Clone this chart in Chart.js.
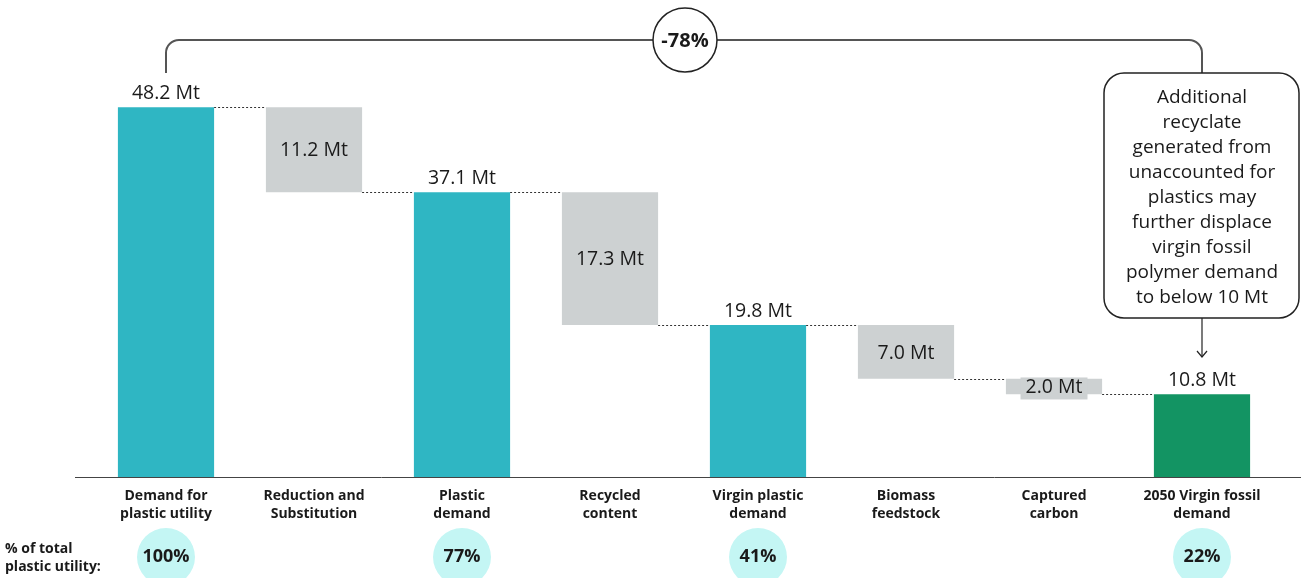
<!DOCTYPE html>
<html>
<head>
<meta charset="utf-8">
<script src="https://cdn.jsdelivr.net/npm/chart.js@4/dist/chart.umd.min.js"></script>
<style>
html,body{margin:0;padding:0;background:#fff;}
#wrap{width:1301px;height:578px;position:relative;}
</style>
</head>
<body>
<div id="wrap"><canvas id="c" width="1301" height="578"></canvas></div>
<script>
const categories = [
  ["Demand for","plastic utility"],
  ["Reduction and","Substitution"],
  ["Plastic","demand"],
  ["Recycled","content"],
  ["Virgin plastic","demand"],
  ["Biomass","feedstock"],
  ["Captured","carbon"],
  ["2050 Virgin fossil","demand"]
];
const barBottoms = [0, 37.1, 0, 19.8, 0, 12.8, 10.8, 0];
const barTops    = [48.2, 48.2, 37.1, 37.1, 19.8, 19.8, 12.8, 10.8];
const barKinds   = ["total","step","total","step","total","step","step","final"];
const valueLabels = ["48.2 Mt","11.2 Mt","37.1 Mt","17.3 Mt","19.8 Mt","7.0 Mt","2.0 Mt","10.8 Mt"];
const shareLabels = ["100%", null, "77%", null, "41%", null, null, "22%"];
const changeLabel = "-78%";
const noteLines = ["Additional","recyclate","generated from","unaccounted for","plastics may","further displace","virgin fossil","polymer demand","to below 10 Mt"];

const kindColors = {total:"#2FB6C3", step:"#CDD1D2", final:"#139463"};
const FONT = "'Open Sans', 'Noto Sans', sans-serif";

const overlay = {
  id: "overlay",
  afterDatasetsDraw(chart) {
    const ctx = chart.ctx;
    const xs = chart.scales.x, ys = chart.scales.y;
    const meta = chart.getDatasetMeta(0);
    ctx.save();
    const yb = ys.getPixelForValue(0);
    ctx.strokeStyle = "#444"; ctx.lineWidth = 1;
    ctx.beginPath(); ctx.moveTo(75, Math.round(yb)+0.5); ctx.lineTo(1301, Math.round(yb)+0.5); ctx.stroke();

    ctx.setLineDash([2,2]); ctx.strokeStyle = "#333"; ctx.lineWidth = 1;
    for (let i = 0; i < barTops.length - 1; i++) {
      const endVal = (barKinds[i] === "step") ? barBottoms[i] : barTops[i];
      const y = Math.round(ys.getPixelForValue(endVal)) + 0.5;
      const b0 = meta.data[i], b1 = meta.data[i+1];
      ctx.beginPath();
      ctx.moveTo(b0.x + b0.width/2, y);
      ctx.lineTo(b1.x - b1.width/2, y);
      ctx.stroke();
    }
    ctx.setLineDash([]);

    ctx.textAlign = "center"; ctx.textBaseline = "middle";
    ctx.font = "19.5px " + FONT; ctx.fillStyle = "#1a1a1a";
    for (let i = 0; i < barTops.length; i++) {
      const x = xs.getPixelForValue(i);
      if (barKinds[i] === "step") {
        const yt = ys.getPixelForValue(barTops[i]), ybb = ys.getPixelForValue(barBottoms[i]);
        let yc = (yt + ybb) / 2;
        if (ybb - yt < 24) {
          const w = ctx.measureText(valueLabels[i]).width + 10;
          ctx.fillStyle = kindColors.step;
          ctx.fillRect(x - w/2, yc - 9, w, 22);
          ctx.fillStyle = "#1a1a1a";
        }
        ctx.fillText(valueLabels[i], x, yc + 1);
      } else {
        ctx.fillText(valueLabels[i], x, ys.getPixelForValue(barTops[i]) - 14);
      }
    }

    ctx.font = "bold 18px " + FONT;
    for (let i = 0; i < shareLabels.length; i++) {
      if (!shareLabels[i]) continue;
      const x = xs.getPixelForValue(i);
      ctx.fillStyle = "#C4F6F4";
      ctx.beginPath(); ctx.arc(x, 557, 29, 0, Math.PI*2); ctx.fill();
      ctx.fillStyle = "#1a1a1a";
      ctx.fillText(shareLabels[i], x, 557);
    }
    ctx.textAlign = "left"; ctx.font = "bold 14px " + FONT;
    ctx.fillText("% of total", 5, 549);
    ctx.fillText("plastic utility:", 5, 567);

    const xa = xs.getPixelForValue(0), xb = xs.getPixelForValue(barTops.length-1);
    const yTop = 40, yLow = 73, r = 13;
    ctx.strokeStyle = "#555"; ctx.lineWidth = 2;
    ctx.beginPath();
    ctx.moveTo(xa, yLow); ctx.lineTo(xa, yTop + r);
    ctx.arcTo(xa, yTop, xa + r, yTop, r);
    ctx.lineTo(xb - r, yTop);
    ctx.arcTo(xb, yTop, xb, yTop + r, r);
    ctx.lineTo(xb, yLow);
    ctx.stroke();
    const cx = 685;
    ctx.fillStyle = "#fff"; ctx.strokeStyle = "#222"; ctx.lineWidth = 1.5;
    ctx.beginPath(); ctx.arc(cx, yTop, 32, 0, Math.PI*2); ctx.fill(); ctx.stroke();
    ctx.fillStyle = "#1a1a1a"; ctx.textAlign = "center"; ctx.font = "bold 20px " + FONT;
    ctx.fillText(changeLabel, cx, yTop + 1);

    const bx = 1104, by = 73, bw = 195, bh = 245, br = 20;
    ctx.fillStyle = "#fff"; ctx.strokeStyle = "#222"; ctx.lineWidth = 1.5;
    ctx.beginPath();
    ctx.moveTo(bx + br, by); ctx.lineTo(bx + bw - br, by);
    ctx.arcTo(bx + bw, by, bx + bw, by + br, br);
    ctx.lineTo(bx + bw, by + bh - br);
    ctx.arcTo(bx + bw, by + bh, bx + bw - br, by + bh, br);
    ctx.lineTo(bx + br, by + bh);
    ctx.arcTo(bx, by + bh, bx, by + bh - br, br);
    ctx.lineTo(bx, by + br);
    ctx.arcTo(bx, by, bx + br, by, br);
    ctx.closePath(); ctx.fill(); ctx.stroke();
    ctx.fillStyle = "#1a1a1a"; ctx.font = "19px " + FONT;
    noteLines.forEach((t, k) => ctx.fillText(t, xb, 98 + k * 24.9));
    ctx.lineWidth = 1.2; ctx.strokeStyle = "#222";
    ctx.beginPath(); ctx.moveTo(xb, by + bh); ctx.lineTo(xb, 357); ctx.stroke();
    ctx.beginPath(); ctx.moveTo(xb - 5, 351); ctx.lineTo(xb, 357); ctx.lineTo(xb + 5, 351); ctx.stroke();
    ctx.restore();
  }
};

new Chart(document.getElementById("c"), {
  type: "bar",
  data: {
    labels: categories,
    datasets: [{
      data: barTops.map((t, i) => [barBottoms[i], t]),
      backgroundColor: barKinds.map(k => kindColors[k]),
      borderWidth: 0,
      barPercentage: 0.65,
      categoryPercentage: 1.0
    }]
  },
  options: {
    responsive: false,
    animation: false,
    devicePixelRatio: 1,
    layout: { padding: { left: 92, right: 25, top: 32, bottom: 0 } },
    plugins: { legend: { display: false }, tooltip: { enabled: false } },
    scales: {
      x: {
        grid: { display: false, drawTicks: false },
        border: { display: false },
        ticks: { color: "#1a1a1a", font: { family: FONT, size: 14, weight: "bold", lineHeight: 1.3 }, padding: 10, maxRotation: 0, autoSkip: false },
        afterFit(s) { s.height = 101; }
      },
      y: { display: false, min: 0, max: 58 }
    }
  },
  plugins: [overlay]
});
</script>
</body>
</html>
